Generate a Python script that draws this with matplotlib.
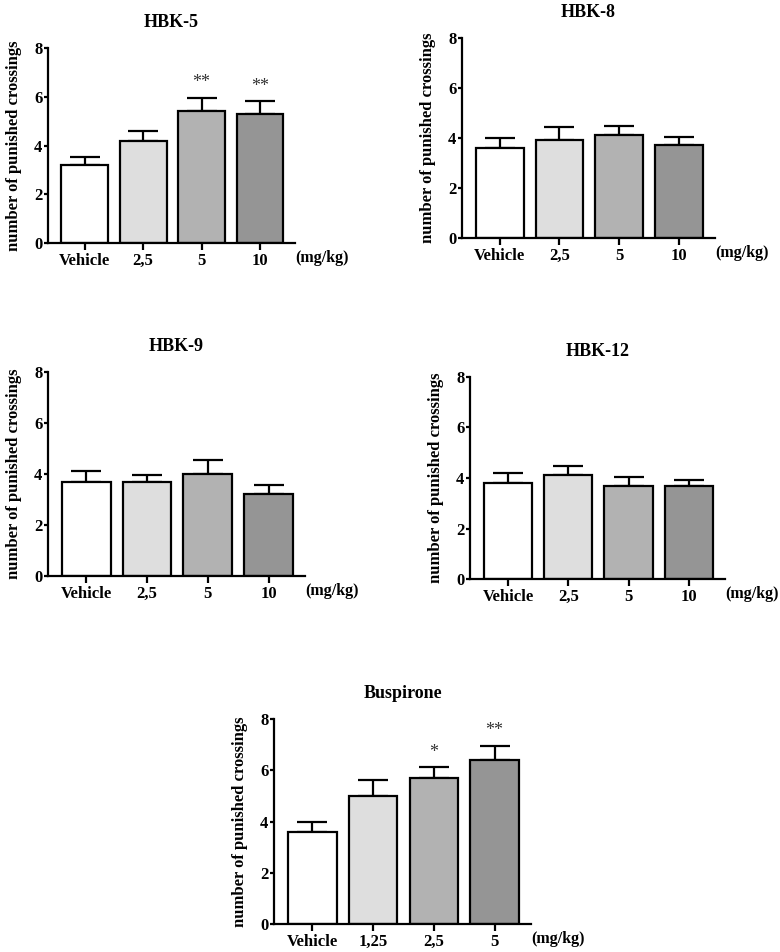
import numpy as np
import matplotlib.pyplot as plt

plt.rcParams['font.family'] = ['Liberation Serif', 'DejaVu Serif']
plt.rcParams['font.weight'] = 'bold'

# doses
hbk_doses = ['Vehicle', '2,5', '5', '10']
busp_doses = ['Vehicle', '1,25', '2,5', '5']

# mean and SEM (number of punished crossings)
hbk5_mean = [3.2, 4.2, 5.4, 5.3]
hbk5_sem = [0.33, 0.4, 0.57, 0.53]
hbk5_stars = ['', '', '**', '**']

hbk8_mean = [3.6, 3.9, 4.1, 3.7]
hbk8_sem = [0.38, 0.55, 0.37, 0.32]
hbk8_stars = ['', '', '', '']

hbk9_mean = [3.7, 3.7, 4.0, 3.2]
hbk9_sem = [0.4, 0.27, 0.55, 0.36]
hbk9_stars = ['', '', '', '']

hbk12_mean = [3.8, 4.1, 3.7, 3.7]
hbk12_sem = [0.38, 0.37, 0.33, 0.22]
hbk12_stars = ['', '', '', '']

busp_mean = [3.6, 5.0, 5.7, 6.4]
busp_sem = [0.38, 0.62, 0.42, 0.56]
busp_stars = ['', '', '*', '**']

bar_colors = ['white', '#dedede', '#b2b2b2', '#959595']

fig = plt.figure(figsize=(7.8, 9.52), dpi=100)

panels = [
    ('HBK-5', hbk_doses, hbk5_mean, hbk5_sem, hbk5_stars, [0.0615, 0.7447, 0.3167, 0.2048]),
    ('HBK-8', hbk_doses, hbk8_mean, hbk8_sem, hbk8_stars, [0.5923, 0.7500, 0.3244, 0.2101]),
    ('HBK-9', hbk_doses, hbk9_mean, hbk9_sem, hbk9_stars, [0.0615, 0.3950, 0.3295, 0.2143]),
    ('HBK-12', hbk_doses, hbk12_mean, hbk12_sem, hbk12_stars, [0.6026, 0.3918, 0.3269, 0.2122]),
    ('Buspirone', busp_doses, busp_mean, busp_sem, busp_stars, [0.3513, 0.0294, 0.3295, 0.2153]),
]

for title, doses, mean, sem, stars, rect in panels:
    ax = fig.add_axes(rect)
    x = np.arange(len(doses))
    ax.bar(x, mean, width=0.8, color=bar_colors, edgecolor='black', linewidth=1.6, zorder=2)
    ax.errorbar(x, mean, yerr=[np.zeros(len(sem)), sem], fmt='none', ecolor='black',
                elinewidth=1.6, capsize=11, capthick=1.6, zorder=1)
    for xi, m, s, st in zip(x, mean, sem, stars):
        if st:
            ax.text(xi, m + s + 0.25, st, ha='center', va='bottom', fontsize=13,
                    color='#333333', fontweight='normal')

    ax.set_xlim(-0.63, 3.6)
    ax.set_ylim(0, 8)
    ax.set_yticks([0, 2, 4, 6, 8])
    ax.set_xticks(x)
    ax.set_xticklabels(doses)
    for side in ['top', 'right']:
        ax.spines[side].set_visible(False)
    for side in ['left', 'bottom']:
        ax.spines[side].set_linewidth(1.6)
    ax.tick_params(axis='y', length=3, width=1.6, pad=1, labelsize=12)
    ax.tick_params(axis='x', length=5, width=1.6, pad=2, labelsize=12)
    ax.set_ylabel('number of punished crossings', fontsize=12, fontweight='bold', labelpad=9)
    ax.set_title(title, fontsize=13, fontweight='bold', pad=15)
    ax.annotate('(mg/kg)', xy=(1.0, 0), xycoords='axes fraction', xytext=(0.5, -11),
                textcoords='offset points', ha='left', va='center', fontsize=11.5)

fig.savefig('out.png', dpi=100)
